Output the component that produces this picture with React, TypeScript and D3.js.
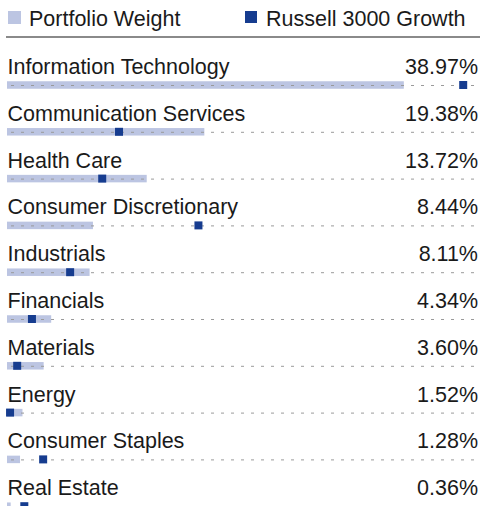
import React from "react";
import * as d3 from "d3";

const categories = [
  "Information Technology",
  "Communication Services",
  "Health Care",
  "Consumer Discretionary",
  "Industrials",
  "Financials",
  "Materials",
  "Energy",
  "Consumer Staples",
  "Real Estate",
];
const portfolioWeight = [38.97, 19.38, 13.72, 8.44, 8.11, 4.34, 3.6, 1.52, 1.28, 0.36];
const benchmarkWeight = [44.8, 11.0, 9.35, 18.8, 6.2, 2.45, 1.0, 0.3, 3.55, 1.7];
const legendLabels = ["Portfolio Weight", "Russell 3000 Growth"];

const W = 480;
const H = 506;
const LIGHT = "#bcc5e2";
const DARK = "#163c8f";
const FONT = "'Liberation Sans', Arial, Helvetica, sans-serif";
const FS = 21.5;

export default function App() {
  const x = d3.scaleLinear().domain([0, 46.45]).range([7, 480]);
  const y = d3.scalePoint<string>().domain(categories).range([85, 85 + 9 * 46.8]);
  const barH = 7.5;
  const mk = 8;

  return (
    <svg
      width={W}
      height={H}
      style={{ position: "absolute", left: 0, top: 0, display: "block" }}
      fontFamily={FONT}
    >
      <rect width={W} height={H} fill="#fff" />
      {/* legend */}
      <rect x={8} y={11} width={13} height={13} fill={LIGHT} />
      <text x={29} y={25.5} fontSize={FS} fill="#1a1a1a">
        {legendLabels[0]}
      </text>
      <rect x={245} y={11} width={12} height={12} fill={DARK} />
      <text x={266} y={25.5} fontSize={FS} fill="#1a1a1a">
        {legendLabels[1]}
      </text>
      <line x1={6} x2={480} y1={37} y2={37} stroke="#8a8a8a" strokeWidth={2} />

      {categories.map((c, i) => {
        const cy = y(c)!;
        const bx = x(benchmarkWeight[i]);
        return (
          <g key={c}>
            <text x={7.5} y={cy - 11} fontSize={FS} fill="#1a1a1a">
              {c}
            </text>
            <text x={478} y={cy - 11} fontSize={FS} fill="#1a1a1a" textAnchor="end">
              {portfolioWeight[i].toFixed(2) + "%"}
            </text>
            <rect
              x={x(0)}
              y={cy - barH / 2}
              width={x(portfolioWeight[i]) - x(0)}
              height={barH}
              fill={LIGHT}
            />
            <line
              x1={x(0)}
              x2={480}
              y1={cy + 0.5}
              y2={cy + 0.5}
              stroke="#9a9a9a"
              strokeWidth={1}
              strokeDasharray="3,7"
              strokeDashoffset={-4}
            />
            <rect x={bx - mk / 2} y={cy - mk / 2} width={mk} height={mk} fill={DARK} />
          </g>
        );
      })}
    </svg>
  );
}
